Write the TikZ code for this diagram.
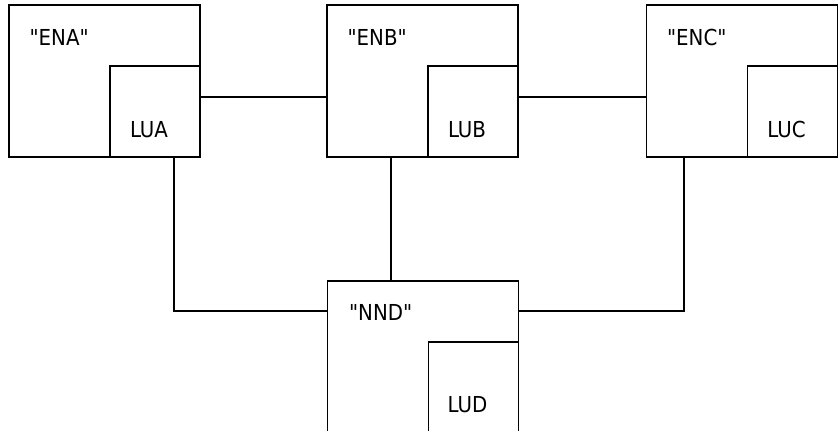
\documentclass[tikz,border=0pt]{standalone}
\usepackage{fontspec}
\newfontfamily\condfont{DejaVu Sans Condensed}
\usepackage{tikz}
\usetikzlibrary{positioning,calc}

\tikzset{
  endnode/.style={draw, rectangle, line width=1.2pt, minimum width=191pt, minimum height=152pt, inner sep=0pt},
  lunode/.style={draw, rectangle, line width=1.2pt, minimum width=90pt, minimum height=91pt, inner sep=0pt, anchor=south east},
  nametext/.style={anchor=west, inner sep=0pt, font=\condfont\fontsize{22}{22}\selectfont},
  lutext/.style={inner sep=0pt, font=\condfont\fontsize{22}{22}\selectfont},
  wire/.style={line width=1.2pt}
}

\begin{document}
\begin{tikzpicture}[x=1pt, y=-1pt]
\useasboundingbox (0,0) rectangle (839,431);
\clip (0,0) rectangle (839,431);
\node[endnode] (ena) at (104.5,81) {};
\node[endnode] (enb) at (422.5,81) {};
\node[endnode] (enc) at (742,81) {};
\node[endnode] (nnd) at (423,357) {};
\node[lunode] (lua) at (ena.south east) {};
\node[lunode] (lub) at (enb.south east) {};
\node[lunode] (luc) at (enc.south east) {};
\node[lunode] (lud) at (nnd.south east) {};
\node[nametext] (ena text) at ($(ena.north west)+(21,33)$) {"ENA"};
\node[nametext] (enb text) at ($(enb.north west)+(21,33)$) {"ENB"};
\node[nametext] (enc text) at ($(enc.north west)+(21,33)$) {"ENC"};
\node[nametext] (nnd text) at ($(nnd.north west)+(22,32)$) {"NND"};
\node[lutext] (lua text) at ($(lua.center)+(-6,18)$) {LUA};
\node[lutext] (lub text) at ($(lub.center)+(-6,18)$) {LUB};
\node[lutext] (luc text) at ($(luc.center)+(-6,18)$) {LUC};
\node[lutext] (lud text) at ($(lud.center)+(-6,17)$) {LUD};
\coordinate (left bend) at (174,311);
\coordinate (right bend) at (684,311);
\draw[wire] ([yshift=14.5pt]lua.east) -- ([yshift=14.5pt]lua.east -| enb.west);
\draw[wire] ([yshift=14.5pt]lub.east) -- ([yshift=14.5pt]lub.east -| enc.west);
\draw[wire] (lua.south -| left bend) -- (left bend) -- (left bend -| nnd.west);
\draw[wire] (enc.south -| right bend) -- (right bend) -- (right bend -| nnd.east);
\draw[wire] ([xshift=-31.5pt]enb.south) -- ([xshift=-31.5pt]enb.south |- nnd.north);
\end{tikzpicture}
\end{document}
